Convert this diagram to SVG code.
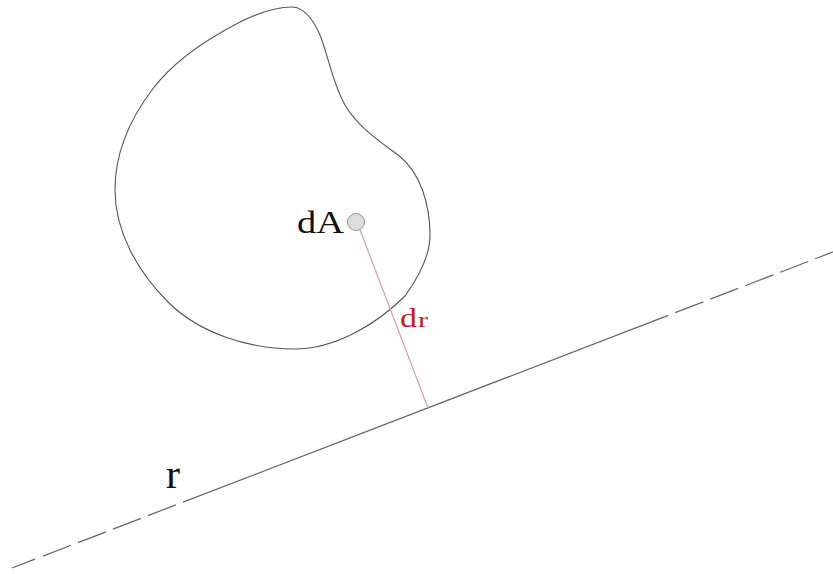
<svg xmlns="http://www.w3.org/2000/svg" width="833" height="574" viewBox="0 0 833 574">
<style>
.outline{fill:none;stroke:#555;stroke-width:1.1}
.axis{fill:none;stroke:#666;stroke-width:1.2}
.dist{fill:none;stroke:#d4a0a6;stroke-width:1.2}
.lbl{font-family:"Liberation Serif","Times New Roman",serif;fill:#111}
.red{font-family:"Liberation Serif","Times New Roman",serif;fill:#c41a24}
</style>
<rect width="833" height="574" fill="#fff"/>
<g id="region">
<path class="outline" d="M292,7 C305,7 315,23 320,35 C329,58 332.5,83 345,105 C357,126 379,141 398,155 C421,172 430,206 430,235 C430,257 418,278 405,296 C377,324 335,349 295,349 C250,349 200,334 168,302 C138,272 115,232 115,190 C115,154 130,119 152,90 C174,60 207,39 240,22 C256,14 274,7 292,7 Z"/>
</g>
<g id="connectors">
<path class="axis" d="M12,568 L833,251.9" stroke-dasharray="24.6 8.6 30 7.5 30 7.5 30 7.5 30 7.5 520 7.5 30 7.5 30 7.5 30 7.5 30 7.5 40"/>
<line class="dist" x1="357" y1="222" x2="428" y2="408"/>
</g>
<g id="dA">
<circle cx="356" cy="222" r="8.5" fill="#ddd" stroke="#999" stroke-width="1"/>
<text class="lbl" x="297" y="233" font-size="31" textLength="47" lengthAdjust="spacingAndGlyphs">dA</text>
</g>
<g id="dr">
<text class="red" x="400" y="327" font-size="28" textLength="17" lengthAdjust="spacingAndGlyphs">d</text>
<text class="red" x="418" y="327" font-size="20" textLength="10" lengthAdjust="spacingAndGlyphs">r</text>
</g>
<g id="r">
<text class="lbl" x="166" y="488" font-size="42">r</text>
</g>
</svg>
